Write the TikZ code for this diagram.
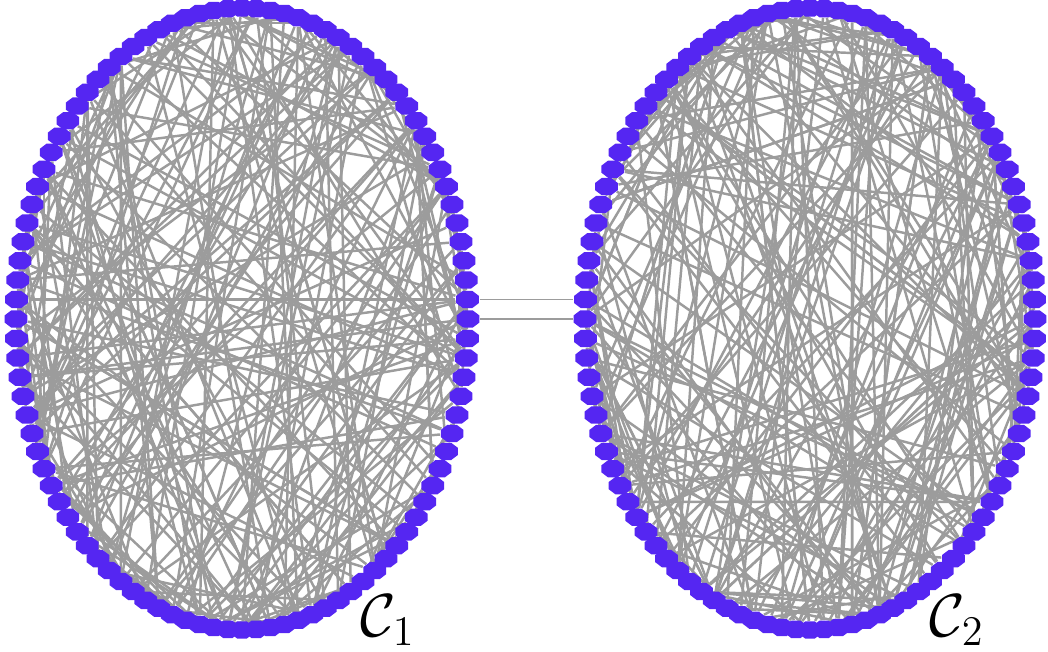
\documentclass[tikz,border=0pt]{standalone}
\usepackage{amsmath,amssymb}
\usetikzlibrary{shapes.geometric,backgrounds}
\definecolor{cNode}{HTML}{5526F2}
\definecolor{cEdge}{HTML}{9C9C9C}
\tikzset{
  vtx/.style={regular polygon,regular polygon sides=8,fill=cNode,inner sep=0pt,minimum size=7pt,yscale=.76},
  edg/.style={line width=.7pt,cEdge},
  link/.style={line width=.55pt,cEdge},
  lbl/.style={font=\LARGE},
}
\begin{document}
\begin{tikzpicture}[x=0.01cm,y=-0.01cm]
  \useasboundingbox (0,0) rectangle (1048,652);
  % cluster C_1
  \begin{scope}
    \foreach \k in {0,...,99}
      \node[vtx] (L\k) at ({242+226*cos(3.6*\k)},{319-311*sin(3.6*\k)}) {};
    \begin{scope}[on background layer]
      \pgfmathsetseed{11}
      \foreach \e in {1,...,260}{
        \pgfmathtruncatemacro\i{random(0,99)}
        \pgfmathtruncatemacro\j{mod(\i+random(1,99),100)}
        \draw[edg] (L\i)--(L\j);
      }
    \end{scope}
    \node[lbl] (c1) at (388,620) {$\mathcal{C}_1$};
  \end{scope}
  % cluster C_2
  \begin{scope}
    \foreach \k in {0,...,99}
      \node[vtx] (R\k) at ({810-225*cos(3.6*\k)},{319-311*sin(3.6*\k)}) {};
    \begin{scope}[on background layer]
      \pgfmathsetseed{29}
      \foreach \e in {1,...,260}{
        \pgfmathtruncatemacro\i{random(0,99)}
        \pgfmathtruncatemacro\j{mod(\i+random(1,99),100)}
        \draw[edg] (R\i)--(R\j);
      }
    \end{scope}
    \node[lbl] (c2) at (957,620) {$\mathcal{C}_2$};
  \end{scope}
  % links between the clusters
  \begin{scope}[on background layer]
    \draw[link] (L0)--(R0) (L1)--(R1);
  \end{scope}
\end{tikzpicture}
\end{document}
